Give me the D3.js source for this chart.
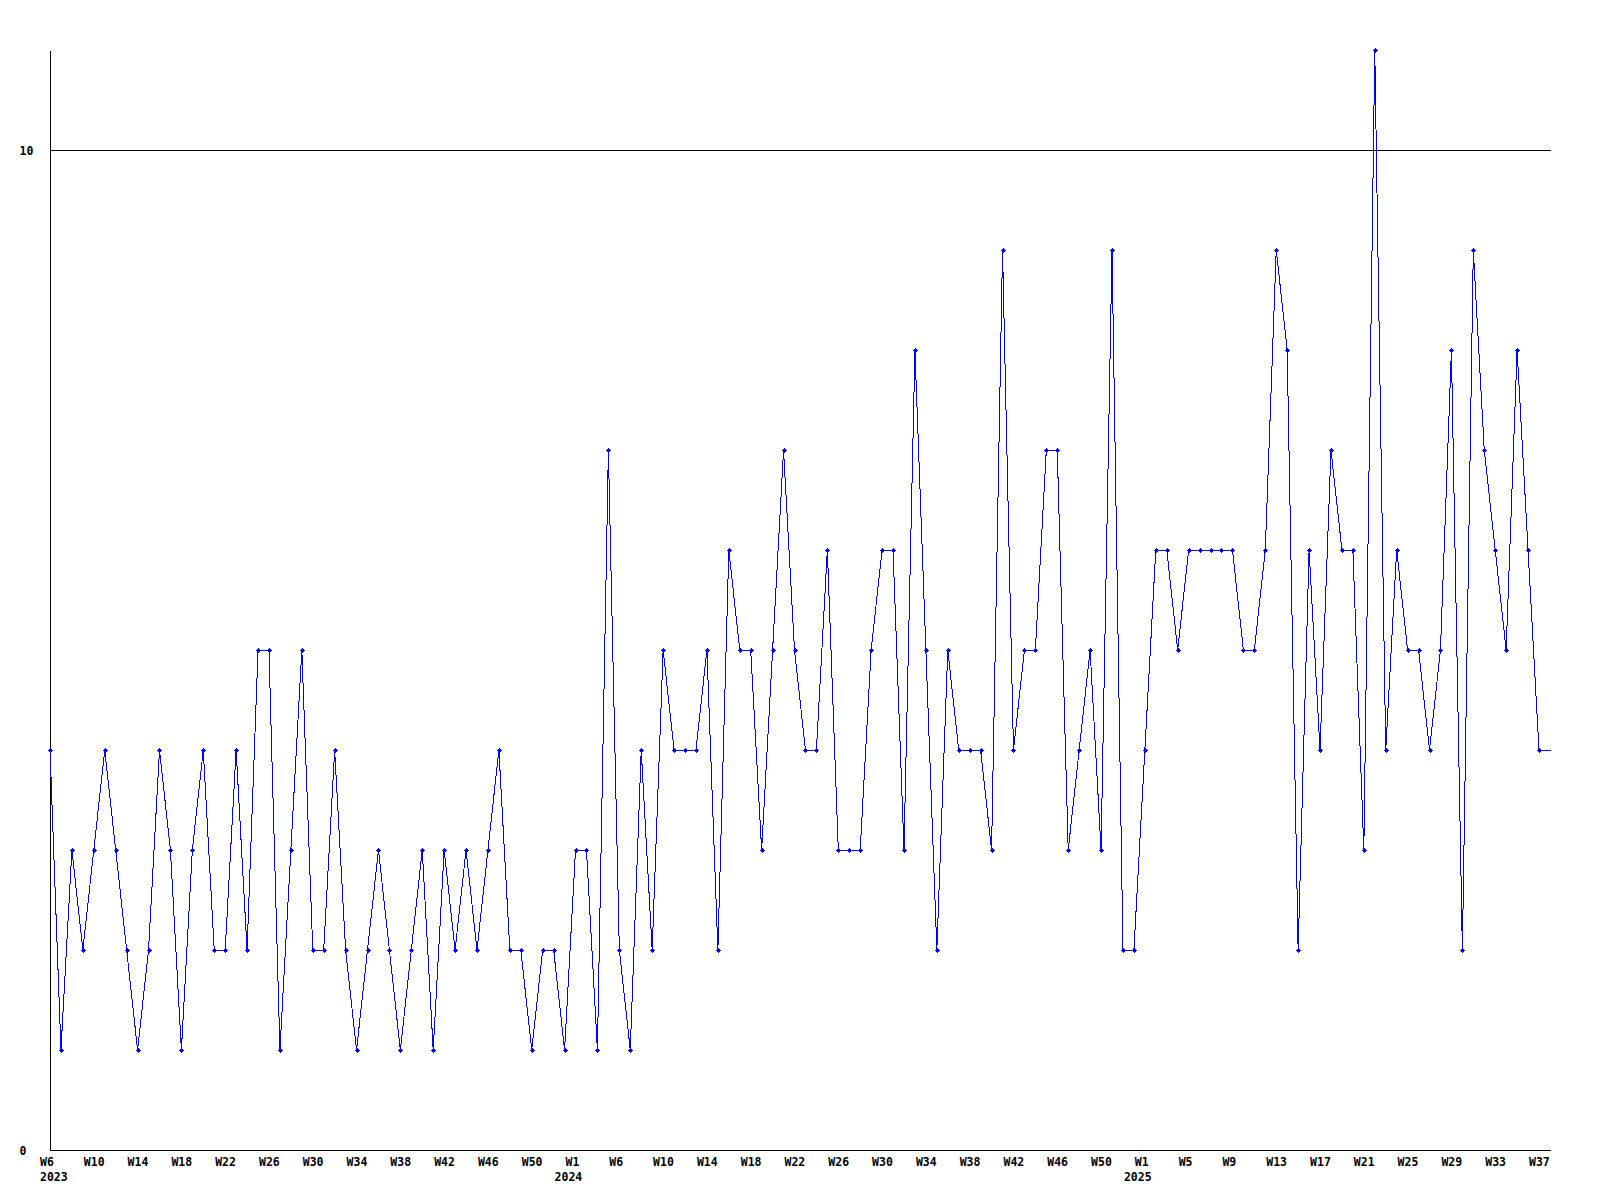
<!DOCTYPE html>
<html>
<head>
<meta charset="utf-8">
<script src="https://cdn.jsdelivr.net/npm/d3@7"></script>
<style>
  html, body { margin: 0; padding: 0; background: #ffffff; }
  svg { display: block; }
  text { font-family: "DejaVu Sans Mono", "Liberation Mono", monospace; font-weight: bold; font-size: 11.5px; fill: #000; }
</style>
</head>
<body>
<svg id="chart" width="1600" height="1200"></svg>
<script>
// Weekly values, 2023-W6 .. 2025-W37
const values = [
  4,1,3,2,3,4,3,2,1,2,4,3,
  1,3,4,2,2,4,2,5,5,1,3,5,
  2,2,4,2,1,2,3,2,1,2,3,1,
  3,2,3,2,3,4,2,2,1,2,2,1,
  3,3,1,7,2,1,4,2,5,4,4,4,
  5,2,6,5,5,3,5,7,5,4,4,6,
  3,3,3,5,6,6,3,8,5,2,5,4,
  4,4,3,9,4,5,5,7,7,3,4,5,
  3,9,2,2,4,6,6,5,6,6,6,6,
  6,5,5,6,9,8,2,6,4,7,6,6,
  3,11,4,6,5,5,4,5,8,2,9,7,
  6,5,8,6,4
];
// Week tick labels, one every 4 points
const weekLabels = ["W6","W10","W14","W18","W22","W26","W30","W34","W38","W42","W46","W50",
  "W1","W6","W10","W14","W18","W22","W26","W30","W34","W38","W42","W46","W50",
  "W1","W5","W9","W13","W17","W21","W25","W29","W33","W37"];
const weekTickStep = 4;
// Year labels and the point index where each year starts
const yearLabels = ["2023","2024","2025"];
const yearStartIndex = [0, 47, 99];
// Y tick values
const yTicks = [0, 10];
const yMax = 11;

(function () {
const svg = d3.select("#chart");
const mLeft = 50, mRight = 1551, mTop = 50, mBottom = 1150;
const lastX = 1539;

const x = d3.scaleLinear().domain([0, values.length - 1]).range([mLeft, lastX]);
const y = d3.scaleLinear().domain([0, yMax]).range([mBottom, mTop]);

// gridline at 10
svg.append("g").selectAll("line").data(yTicks.filter(d => d > 0)).join("line")
  .attr("x1", mLeft).attr("x2", mRight)
  .attr("y1", d => Math.round(y(d)) + 0.5).attr("y2", d => Math.round(y(d)) + 0.5)
  .attr("stroke", "#000").attr("stroke-width", 1).attr("shape-rendering", "crispEdges");

// y axis
const yAxis = d3.axisLeft(y).tickValues(yTicks).tickSize(0).tickFormat(d3.format("d"));
const gy = svg.append("g").attr("transform", `translate(${mLeft},0)`).call(yAxis);
gy.attr("font-family", null).attr("font-size", null);
gy.select(".domain").attr("stroke", "#000").attr("shape-rendering", "crispEdges");
gy.selectAll("text").attr("x", 19.5 - mLeft).attr("text-anchor", "start").attr("dy", "0.36em");

// x axis with week labels
const tickIdx = weekLabels.map((_, i) => i * weekTickStep);
const xAxis = d3.axisBottom(x).tickValues(tickIdx).tickSize(0)
  .tickFormat((d, i) => weekLabels[i]);
const gx = svg.append("g").attr("transform", `translate(0,${mBottom})`).call(xAxis);
gx.attr("font-family", null).attr("font-size", null);
gx.select(".domain").attr("d", `M${mLeft},0.5H${mRight}`).attr("stroke", "#000").attr("shape-rendering", "crispEdges");
gx.selectAll("text").attr("text-anchor", "start").attr("x", -10.5).attr("y", 16).attr("dy", 0);

// year labels
const yearAxis = d3.axisBottom(x).tickValues(yearStartIndex).tickSize(0)
  .tickFormat((d, i) => yearLabels[i]);
const gyear = svg.append("g").attr("transform", `translate(0,${mBottom})`).call(yearAxis);
gyear.attr("font-family", null).attr("font-size", null);
gyear.select(".domain").remove();
gyear.selectAll("text").attr("text-anchor", "start").attr("x", -10.5).attr("y", 31).attr("dy", 0);

// line (extends flat to the right edge after the last point)
const pts = values.map((v, i) => [x(i), y(v)]);
pts.push([mRight, y(values[values.length - 1])]);
svg.append("path")
  .attr("d", d3.line()(pts))
  .attr("fill", "none").attr("stroke", "#0000ff").attr("stroke-width", 1)
  .attr("shape-rendering", "crispEdges");

// markers: small plus shapes
const mk = svg.append("g").attr("fill", "#0000ff").attr("shape-rendering", "crispEdges");
values.forEach((v, i) => {
  const cx = Math.round(x(i)), cy = Math.round(y(v));
  mk.append("rect").attr("x", cx - 1).attr("y", cy - 1).attr("width", 3).attr("height", 3);
  mk.append("rect").attr("x", cx - 2).attr("y", cy).attr("width", 5).attr("height", 1);
  mk.append("rect").attr("x", cx).attr("y", cy - 2).attr("width", 1).attr("height", 5);
});
})();
</script>
</body>
</html>
